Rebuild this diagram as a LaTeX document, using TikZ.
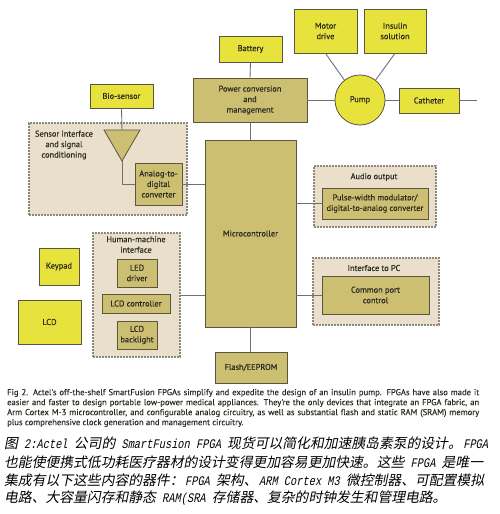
\documentclass[tikz,border=0pt]{standalone}
\usepackage{fontspec}
\setmainfont{PT Sans}
\newfontfamily\dgfont{PT Sans}[FakeBold=0.35]
\newfontfamily\cpfont{PT Sans}[FakeBold=0.2]
\newfontfamily\cjkfont{Noto Sans CJK SC}[FakeSlant=0.2]
\newfontfamily\latfont{Liberation Mono}[Scale=0.95,FakeStretch=0.79,FakeSlant=0.2]
\newcommand\zh[1]{{\cjkfont #1}}
\newcommand\en[1]{{\latfont #1}}
\newcommand\dfs{\dgfont\fontsize{8.4}{10.5}\selectfont}
\newcommand\efs{\cpfont\fontsize{8.6}{10}\selectfont}
\newcommand\cfs{\fontsize{13.8}{18}\selectfont}
\definecolor{ylw}{HTML}{E8E23C}
\definecolor{olv}{HTML}{CDBF72}
\definecolor{bge}{HTML}{E9DFCB}
\definecolor{bdr}{HTML}{5B5642}
\definecolor{lnc}{HTML}{707070}
\definecolor{dsh}{HTML}{8C8880}
\definecolor{txt}{HTML}{2B2A22}
\tikzset{
  box/.style={draw=bdr, line width=0.8pt, inner sep=0pt, align=center, font=\dfs, text=txt},
  ybox/.style={box, fill=ylw},
  obox/.style={box, fill=olv},
  grp/.style={draw=dsh, fill=bge, line width=1.1pt, dash pattern=on 1.6pt off 1.4pt, inner sep=0pt},
  conn/.style={draw=lnc, line width=0.9pt},
  lbl/.style={align=center, font=\dfs, text=txt, inner sep=0pt},
  capen/.style={anchor=west, inner sep=0pt, font=\efs, text=txt},
  capzh/.style={anchor=west, inner sep=0pt, font=\cfs, text=black}
}
\begin{document}
\begin{tikzpicture}[x=1pt,y=-1pt]
\fill[white] (0,0) rectangle (500,514);
\useasboundingbox (0,0) rectangle (500,514);
% groups
\node[grp, minimum width=158pt, minimum height=92pt] (sens) at (108,169) {};
\node[grp, minimum width=122pt, minimum height=61pt] (audio) at (375,196.5) {};
\node[grp, minimum width=126pt, minimum height=67pt] (pcgrp) at (376,291.5) {};
\node[grp, minimum width=87pt, minimum height=124pt] (hmi) at (136.5,295) {};
\node[lbl] (senslbl) at (64,145) {Sensor interface\\and signal\\conditioning};
\node[lbl] (audiolbl) at (374,177) {Audio output};
\node[lbl] (pclbl) at (374,268) {Interface to PC};
\node[lbl] (hmilbl) at (136,244.5) {Human-machine\\interface};
% boxes
\node[ybox, minimum width=63pt, minimum height=26pt] (bat) at (250.5,49) {Battery};
\node[obox, minimum width=114pt, minimum height=44pt] (pwr) at (250,100) {Power conversion\\and\\management};
\node[ybox, minimum width=63pt, minimum height=44pt] (motor) at (325.5,31) {Motor\\drive};
\node[ybox, minimum width=62pt, minimum height=44pt] (insulin) at (395,31) {Insulin\\solution};
\node[ybox, circle, minimum size=50pt] (pump) at (360,100) {Pump};
\node[ybox, minimum width=60pt, minimum height=25pt] (cath) at (429,100.5) {Catheter};
\coordinate (outend) at (477,100.5);
\node[ybox, minimum width=63pt, minimum height=24pt] (bio) at (121.5,96) {Bio-sensor};
\coordinate (tritop) at (122,130);
\coordinate (triapex) at (122,161);
\draw[draw=bdr, fill=olv, line width=0.8pt, line join=miter] (104,130) -- (140,130) -- (triapex) -- cycle;
\node[obox, minimum width=47pt, minimum height=42pt] (adc) at (158.5,184) {Analog-to-\\digital\\converter};
\node[obox, minimum width=91pt, minimum height=187pt] (mcu) at (250.5,233.5) {Microcontroller};
\node[obox, minimum width=106pt, minimum height=31pt] (pwm) at (375,203.5) {Pulse-width modulator/\\digital-to-analog converter};
\node[obox, minimum width=107pt, minimum height=38pt] (cpc) at (375.5,295) {Common port\\control};
\node[obox, minimum width=72pt, minimum height=31pt] (flash) at (251,367.5) {Flash/EEPROM};
\node[obox, minimum width=40pt, minimum height=28pt] (led) at (137,273) {LED\\driver};
\node[obox, minimum width=68pt, minimum height=19pt] (lcdc) at (136,303.5) {LCD controller};
\node[obox, minimum width=40pt, minimum height=28pt] (lcdb) at (137,335) {LCD\\backlight};
\node[ybox, minimum width=40pt, minimum height=37pt] (keypad) at (59,266.5) {Keypad};
\node[ybox, minimum width=63pt, minimum height=44pt] (lcd) at (49.5,322) {LCD};
% connectors
\draw[conn] (bat.south) -- (pwr.north);
\draw[conn] (pwr.south) -- (pwr.south |- mcu.north);
\draw[conn] (pwr.east) -- (pump.west);
\draw[conn] (motor.south) -- (pump.128);
\draw[conn] (insulin.south) -- (pump.52);
\draw[conn] (pump.east) -- (cath.west |- pump.east);
\draw[conn] (cath.east) -- (outend);
\draw[conn] (bio.south) -- (tritop);
\draw[conn] (triapex) |- (adc.west);
\draw[conn] (adc.east) -- (adc.east -| mcu.west);
\draw[conn] (mcu.east |- pwm.west) -- (pwm.west);
\draw[conn] (mcu.east |- cpc.west) -- (cpc.west);
\draw[conn] (hmi.east) -- (hmi.east -| mcu.west);
\draw[conn] (mcu.south) -- (mcu.south |- flash.north);
% captions
\node[capen] (cap1) at (7,393) {\makebox[472pt][s]{Fig 2. Actel's off-the-shelf SmartFusion FPGAs simplify and expedite the design of an insulin pump. FPGAs have also made it}};
\node[capen] (cap2) at (7,403) {\makebox[472pt][s]{easier and faster to design portable low-power medical appliances. They're the only devices that integrate an FPGA fabric, an}};
\node[capen] (cap3) at (7,413) {\makebox[472pt][s]{Arm Cortex M-3 microcontroller, and configurable analog circuitry, as well as substantial flash and static RAM (SRAM) memory}};
\node[capen] (cap4) at (7,423) {plus comprehensive clock generation and management circuitry.};
\node[capzh] (zh1) at (4,443) {\zh{图}\en{ 2:Actel }\zh{公司的}\en{ SmartFusion FPGA }\zh{现货可以简化和加速胰岛素泵的设计。}\kern1.5pt\en{FPGA}};
\node[capzh] (zh2) at (4,462) {\zh{也能使便携式低功耗医疗器材的设计变得更加容易更加快速。这些}\en{ FPGA }\zh{是唯一}};
\node[capzh] (zh3) at (4,480) {\zh{集成有以下这些内容的器件：}\kern1.5pt\en{FPGA }\zh{架构、}\kern1.5pt\en{ARM Cortex M3 }\zh{微控制器、可配置模拟}};
\node[capzh] (zh4) at (4,498) {\zh{电路、大容量闪存和静态}\en{ RAM(SRA }\zh{存储器、复杂的时钟发生和管理电路。}};
\end{tikzpicture}
\end{document}
